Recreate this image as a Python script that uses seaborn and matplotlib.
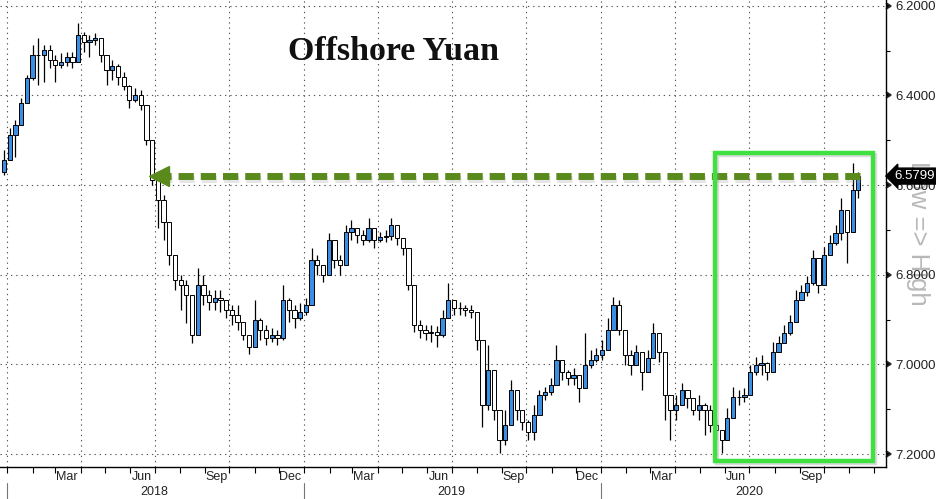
import numpy as np
import pandas as pd
import matplotlib
matplotlib.use('Agg')
import matplotlib.pyplot as plt
import matplotlib.dates as mdates
import matplotlib.patheffects as pe
import matplotlib.ticker as mticker
import matplotlib.transforms as mtrans
from matplotlib.patches import Rectangle
import seaborn as sns

# weekly USD/CNH candles (week starting 2017-12-25)
first_week = '2017-12-25'
first_open = 6.570
close = [6.544, 6.488, 6.466, 6.417, 6.361, 6.309, 6.309, 6.298, 6.321, 6.332,
         6.325, 6.314, 6.325, 6.265, 6.280, 6.276, 6.271, 6.309, 6.343, 6.334,
         6.358, 6.379, 6.410, 6.399, 6.421, 6.499, 6.588, 6.633, 6.682, 6.756,
         6.812, 6.823, 6.845, 6.934, 6.823, 6.845, 6.861, 6.852, 6.856, 6.879,
         6.890, 6.905, 6.934, 6.961, 6.901, 6.923, 6.941, 6.934, 6.941, 6.856,
         6.879, 6.896, 6.883, 6.867, 6.767, 6.778, 6.800, 6.722, 6.767, 6.778,
         6.704, 6.696, 6.711, 6.722, 6.696, 6.722, 6.716, 6.714, 6.689, 6.718,
         6.740, 6.823, 6.912, 6.923, 6.930, 6.928, 6.934, 6.896, 6.856, 6.874,
         6.874, 6.879, 6.883, 6.946, 7.091, 7.012, 7.102, 7.169, 7.135, 7.057,
         7.102, 7.129, 7.151, 7.113, 7.068, 7.062, 7.046, 6.990, 7.017, 7.030,
         7.024, 7.053, 7.001, 6.990, 6.979, 6.968, 6.923, 6.867, 6.923, 6.979,
         7.001, 6.972, 7.017, 6.986, 6.930, 6.972, 7.068, 7.102, 7.091, 7.057,
         7.075, 7.102, 7.091, 7.102, 7.135, 7.146, 7.169, 7.120, 7.073, 7.073,
         7.068, 7.017, 7.001, 6.997, 7.017, 6.972, 6.952, 6.930, 6.905, 6.856,
         6.838, 6.818, 6.763, 6.823, 6.756, 6.729, 6.707, 6.655, 6.704, 6.611,
         6.580]
low = [6.521, 6.472, 6.454, 6.405, 6.354, 6.287, 6.271, 6.287, 6.287, 6.309,
       6.305, 6.303, 6.303, 6.238, 6.258, 6.265, 6.260, 6.271, 6.309, 6.321,
       6.329, 6.347, 6.376, 6.383, 6.388, 6.432, 6.499, 6.600, 6.622, 6.689,
       6.756, 6.800, 6.812, 6.856, 6.785, 6.800, 6.834, 6.834, 6.834, 6.856,
       6.867, 6.867, 6.912, 6.934, 6.856, 6.896, 6.912, 6.919, 6.923, 6.823,
       6.852, 6.867, 6.863, 6.852, 6.740, 6.756, 6.778, 6.707, 6.733, 6.756,
       6.689, 6.678, 6.696, 6.700, 6.673, 6.704, 6.704, 6.700, 6.673, 6.691,
       6.722, 6.740, 6.834, 6.901, 6.912, 6.912, 6.914, 6.879, 6.818, 6.856,
       6.861, 6.867, 6.867, 6.883, 6.990, 6.957, 7.035, 7.135, 7.102, 7.035,
       7.068, 7.102, 7.124, 7.091, 7.057, 7.050, 7.030, 6.957, 7.001, 7.012,
       7.008, 7.024, 6.930, 6.968, 6.963, 6.946, 6.896, 6.850, 6.856, 6.946,
       6.968, 6.957, 6.979, 6.968, 6.908, 6.946, 6.979, 7.068, 7.068, 7.042,
       7.057, 7.084, 7.068, 7.086, 7.091, 7.124, 7.146, 7.097, 7.050, 7.057,
       7.053, 7.001, 6.983, 6.979, 6.995, 6.950, 6.937, 6.912, 6.890, 6.834,
       6.823, 6.803, 6.745, 6.778, 6.738, 6.711, 6.689, 6.629, 6.667, 6.550,
       6.571]
high = [6.577, 6.544, 6.537, 6.450, 6.410, 6.365, 6.376, 6.370, 6.338, 6.370,
        6.338, 6.334, 6.338, 6.321, 6.303, 6.314, 6.287, 6.325, 6.376, 6.365,
        6.376, 6.388, 6.428, 6.414, 6.432, 6.510, 6.600, 6.696, 6.722, 6.778,
        6.834, 6.879, 6.908, 6.952, 6.890, 6.867, 6.879, 6.879, 6.883, 6.896,
        6.912, 6.923, 6.946, 6.977, 6.957, 6.946, 6.957, 6.950, 6.957, 6.946,
        6.905, 6.919, 6.901, 6.890, 6.863, 6.800, 6.816, 6.789, 6.785, 6.800,
        6.771, 6.722, 6.729, 6.733, 6.727, 6.740, 6.727, 6.727, 6.722, 6.733,
        6.756, 6.834, 6.928, 6.941, 6.946, 6.950, 6.961, 6.939, 6.890, 6.890,
        6.890, 6.892, 6.896, 6.968, 7.140, 7.102, 7.124, 7.198, 7.180, 7.135,
        7.124, 7.146, 7.169, 7.169, 7.102, 7.079, 7.068, 7.046, 7.035, 7.046,
        7.046, 7.084, 7.035, 7.008, 6.995, 6.990, 6.957, 6.890, 6.934, 7.001,
        7.024, 6.995, 7.057, 7.008, 6.957, 6.995, 7.124, 7.169, 7.124, 7.091,
        7.097, 7.113, 7.124, 7.158, 7.151, 7.169, 7.198, 7.169, 7.113, 7.091,
        7.084, 7.068, 7.024, 7.024, 7.035, 7.017, 6.972, 6.950, 6.934, 6.901,
        6.856, 6.847, 6.823, 6.841, 6.800, 6.756, 6.733, 6.722, 6.774, 6.704,
        6.629]

last_px = 6.5799
arrow_from, arrow_to = '2018-06-29', '2020-11-14'
box_from, box_to = '2020-05-20', '2020-11-30'
box_top, box_bottom = 6.528, 7.216
x_start, x_end = '2017-12-23', '2020-12-16'
month_names = {3: 'Mar', 6: 'Jun', 9: 'Sep', 12: 'Dec'}
years = [2018, 2019, 2020]

sns.set_theme(style='white')
plt.rcParams['font.family'] = ['Liberation Sans', 'DejaVu Sans']

weeks = pd.date_range(first_week, periods=len(close), freq='7D')
df = pd.DataFrame({'week': weeks, 'close': close, 'low': low, 'high': high})
df['open'] = [first_open] + close[:-1]
df['mid'] = df['week'] + pd.Timedelta(days=3)
df['lo'] = df[['low', 'open', 'close']].min(axis=1)
df['hi'] = df[['high', 'open', 'close']].max(axis=1)
down = df['close'] <= df['open']

fig = plt.figure(figsize=(9.37, 4.99), dpi=100)
ax = fig.add_axes([0, 32 / 499, 886 / 937, 467 / 499])
ax.set_facecolor('white')

# candles
ax.vlines(df['mid'], df['lo'], df['hi'], color='black', lw=0.9, zorder=3)
ax.bar(df['mid'], df['close'] - df['open'], bottom=df['open'], width=5.2,
       color=np.where(down, '#3a8fe4', 'white'), edgecolor='black', lw=0.7, zorder=4)

ax.set_xlim(pd.Timestamp(x_start), pd.Timestamp(x_end))
ax.set_ylim(7.229, 6.187)

# green level arrow
green = '#5a8a1c'
shadow = [pe.SimpleLineShadow(offset=(1, -2), shadow_color='#999999', alpha=0.25), pe.Normal()]
a0 = pd.Timestamp(arrow_from)
ax.plot([pd.Timestamp(arrow_to), a0 + pd.Timedelta(days=14)], [last_px, last_px],
        color=green, lw=5, dashes=(2.2, 1.0), solid_capstyle='butt', zorder=6,
        path_effects=shadow)
ax.plot([a0 + pd.Timedelta(days=8)], [last_px], marker='<', ms=15, color=green,
        mec=green, zorder=6)

# bright green box
b0 = mdates.date2num(pd.Timestamp(box_from))
b1 = mdates.date2num(pd.Timestamp(box_to))
ax.add_patch(Rectangle((b0, box_top), b1 - b0, box_bottom - box_top, fill=False,
                       ec='#3fe03f', lw=3.2, zorder=7, clip_on=False,
                       path_effects=[pe.SimpleLineShadow(offset=(1.5, -1.5), shadow_color='#999999', alpha=0.35), pe.Normal()]))

# axes styling
for s in ['top', 'left']:
    ax.spines[s].set_visible(False)
for s in ['right', 'bottom']:
    ax.spines[s].set_color('black')
    ax.spines[s].set_linewidth(1.0)

ax.yaxis.tick_right()
ax.yaxis.set_major_locator(mticker.MultipleLocator(0.2))
ax.yaxis.set_minor_locator(mticker.MultipleLocator(0.1))
ax.yaxis.set_major_formatter(mticker.FormatStrFormatter('%.4f'))
ax.tick_params(axis='y', which='major', right=True, left=False, length=5, pad=2,
               labelsize=9.5, labelcolor='#222222')
ax.tick_params(axis='y', which='minor', right=True, left=False, length=3, width=0.8, color='black')
for t in ax.yaxis.get_major_ticks():
    t.tick2line.set_marker(matplotlib.markers.CARETRIGHTBASE)
    t.tick2line.set_markersize(5)
    t.tick2line.set_color('black')

ax.xaxis.set_major_locator(mdates.MonthLocator(bymonth=[1, 4, 7, 10]))
ax.xaxis.set_minor_locator(mdates.MonthLocator())
ax.xaxis.set_major_formatter(mticker.NullFormatter())
ax.tick_params(axis='x', which='both', bottom=True, direction='out', length=4,
               width=0.8, color='black')

ax.grid(True, which='major', color='#555555', lw=0.8, linestyle=(0, (1.2, 3.5)))
ax.set_axisbelow(True)

# month and year labels
trans = mtrans.blended_transform_factory(ax.transData, ax.transAxes)
last_week = df['week'].iloc[-1]
for yr in years:
    for m, name in month_names.items():
        d = pd.Timestamp(yr, m, 15)
        if d <= last_week:
            ax.text(d, -0.022, name, transform=trans, ha='center', va='center',
                    fontsize=9, color='#222222')
    ax.text(pd.Timestamp(yr, 7, 1), -0.054, str(yr), transform=trans, ha='center',
            va='center', fontsize=9, color='#222222')
    ax.plot([pd.Timestamp(yr, 1, 1)] * 2, [-0.034, -0.07], transform=trans,
            color='#777777', lw=0.8, clip_on=False)

# last price tag
ax.annotate(f'{last_px:.4f}', xy=(1.0, last_px), xycoords=('axes fraction', 'data'),
            xytext=(6, 0), textcoords='offset points', ha='left', va='center',
            color='white', fontsize=9.5, zorder=10, annotation_clip=False,
            bbox=dict(boxstyle='larrow,pad=0.15', fc='black', ec='black'))

fig.text(393 / 937, 1 - 52 / 499, 'Offshore Yuan', family=['Liberation Serif', 'DejaVu Serif'],
         weight='bold', fontsize=24.5, ha='center', va='center', color='#111111')
# watermark-like axis note, drawn beneath the axes so tick labels stay on top
fig.text(918 / 937, 1 - 233 / 499, 'Low => High', rotation=-90, color='#b8b8b8',
         fontsize=18.5, ha='center', va='center', zorder=-1)

fig.savefig('out.png', dpi=100, facecolor='white')
